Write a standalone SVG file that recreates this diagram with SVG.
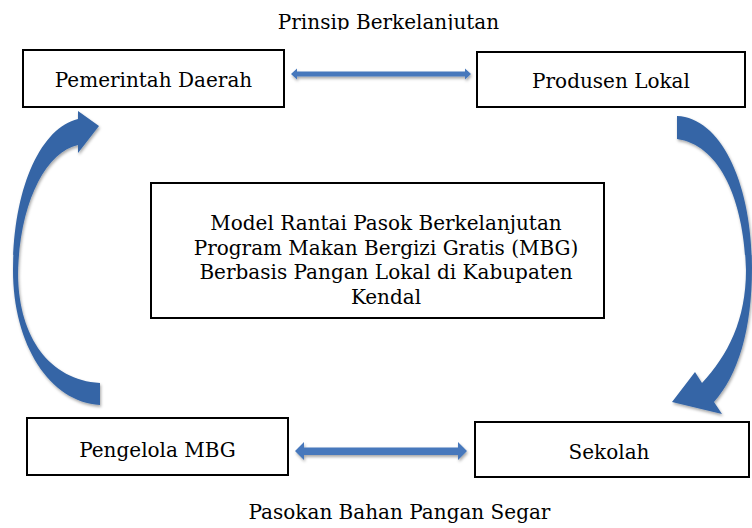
<svg xmlns="http://www.w3.org/2000/svg" width="752" height="528" viewBox="0 0 752 528">
  <style>
    .box { fill: #ffffff; stroke: #000000; stroke-width: 2; }
    .lbl { font-family: "DejaVu Serif", "Liberation Serif", serif; font-size: 20px; fill: #000000; text-anchor: middle; }
    .curve { fill: #3565A6; }
    .straight { fill: #4678BC; }
  </style>
  <defs>
    <clipPath id="topclip"><rect x="0" y="0" width="752" height="30"/></clipPath>
    <filter id="shadow" x="-10%" y="-10%" width="130%" height="140%">
      <feDropShadow dx="1" dy="2" stdDeviation="1.5" flood-color="#000000" flood-opacity="0.35"/>
    </filter>
  </defs>

  <g id="labels">
    <text class="lbl" x="388.5" y="28.5" clip-path="url(#topclip)">Prinsip Berkelanjutan</text>
    <text class="lbl" x="399.5" y="519">Pasokan Bahan Pangan Segar</text>
  </g>

  <g id="node-pemerintah">
    <rect class="box" x="23" y="50" width="261" height="57"/>
    <text class="lbl" x="153.5" y="86.5">Pemerintah Daerah</text>
  </g>
  <g id="node-produsen">
    <rect class="box" x="477" y="52" width="268" height="55"/>
    <text class="lbl" x="611" y="88">Produsen Lokal</text>
  </g>
  <g id="node-pengelola">
    <rect class="box" x="27" y="418" width="261" height="57"/>
    <text class="lbl" x="157.5" y="456.5">Pengelola MBG</text>
  </g>
  <g id="node-sekolah">
    <rect class="box" x="475" y="422" width="274" height="55"/>
    <text class="lbl" x="609" y="459">Sekolah</text>
  </g>
  <g id="node-model">
    <rect class="box" x="151" y="183" width="453" height="135"/>
    <text class="lbl" x="386" y="230">Model Rantai Pasok Berkelanjutan</text>
    <text class="lbl" x="386" y="254.5">Program Makan Bergizi Gratis (MBG)</text>
    <text class="lbl" x="386" y="279">Berbasis Pangan Lokal di Kabupaten</text>
    <text class="lbl" x="386" y="304">Kendal</text>
  </g>

  <g id="connectors" filter="url(#shadow)">
    <polygon class="straight" points="291,74 297,68.5 297,71.5 465,71.5 465,68.5 471,74 465,79.5 465,76.5 297,76.5 297,79.5"/>
    <polygon class="straight" points="295,451 304,442 304,447.5 458,447.5 458,442 467,451 458,460 458,455 304,455 304,460"/>
    <path class="curve" d="M 100,405 C 50,402 13,345 13,270 C 13,190 40,128 78,119 L 78,111 L 99,126 L 78,153 L 78,145 C 45,152 19,205 18,275 C 19,338 50,380 100,383 Z"/>
    <path class="curve" d="M 677,116 C 722,118 752,185 752,268 C 752,330 738,375 714,402 L 722,414 L 672,402 L 695,372 L 702,383 C 728,355 746,320 746,270 C 744,200 720,145 677,139 Z"/>
  </g>
</svg>
